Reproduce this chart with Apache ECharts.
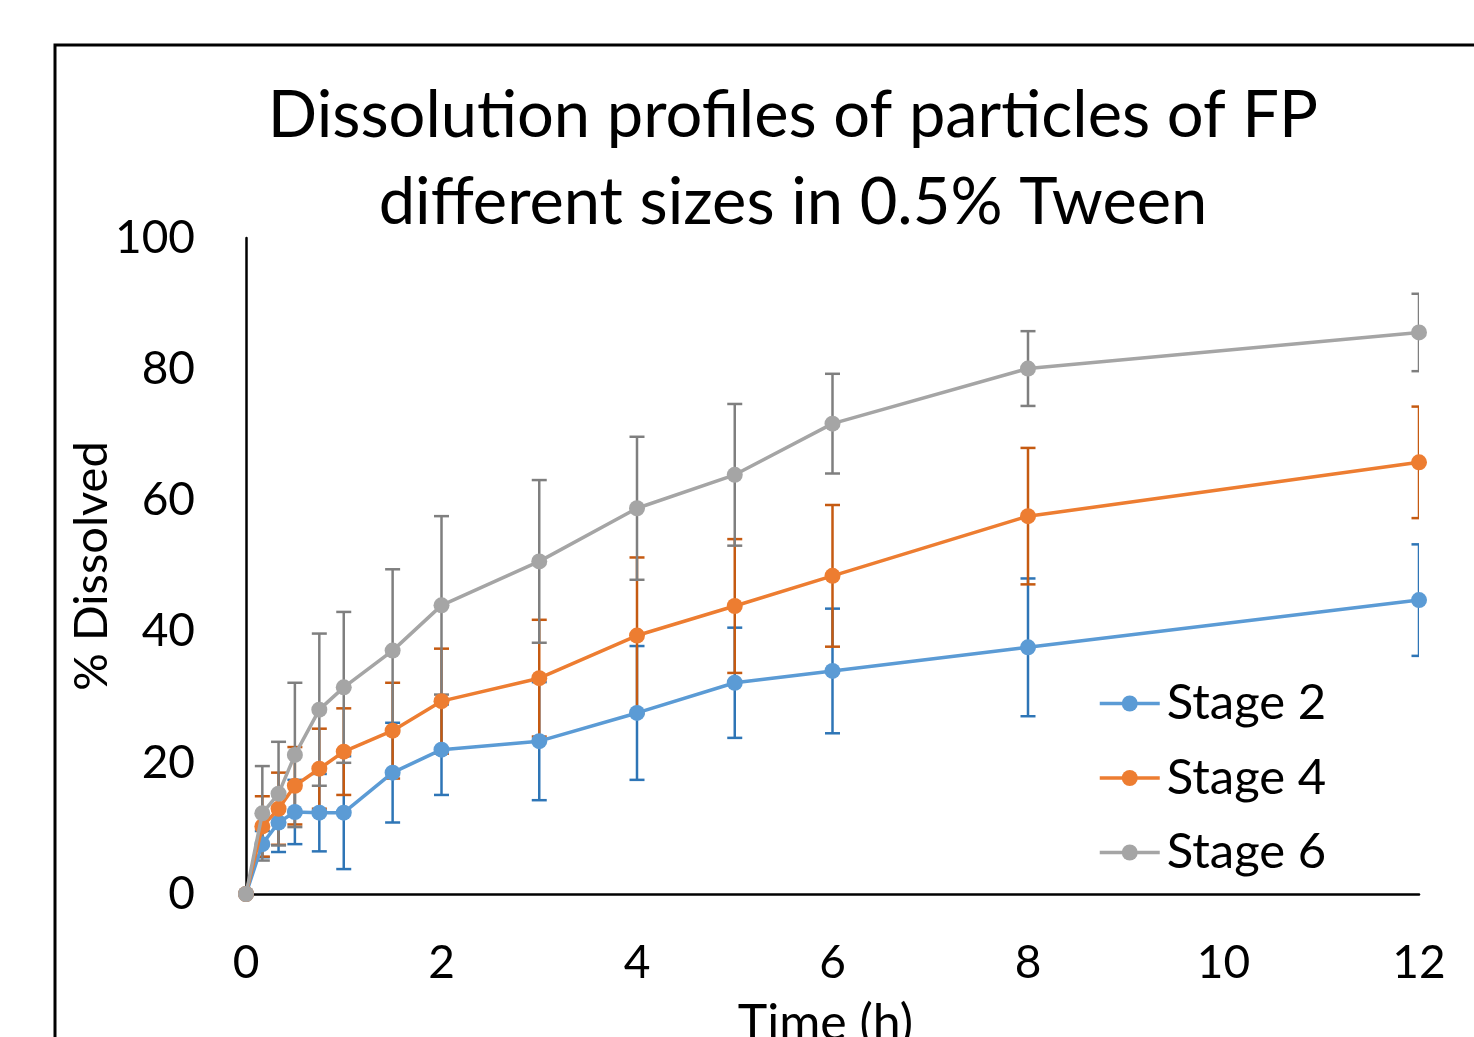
<!DOCTYPE html>
<html>
<head>
<meta charset="utf-8">
<script src="https://cdn.jsdelivr.net/npm/echarts@6/dist/echarts.min.js"></script>
<style>html,body{margin:0;padding:0;background:#fff;}#main{width:1474px;height:1037px;display:block;background:#fff}</style>
</head>
<body>
<div id="main"></div>
<script>
const times = [0, 0.167, 0.333, 0.5, 0.75, 1, 1.5, 2, 3, 4, 5, 6, 8, 12];
const xTicks = [0, 2, 4, 6, 8, 10, 12];
const yTicks = [0, 20, 40, 60, 80, 100];
const seriesNames = ['Stage 2', 'Stage 4', 'Stage 6'];
const stage2Mean = [0, 7.6, 10.9, 12.5, 12.4, 12.4, 18.5, 22.0, 23.3, 27.6, 32.2, 34.0, 37.6, 44.8];
const stage2SD   = [0, 2.0, 4.5, 4.9, 5.9, 8.6, 7.6, 6.9, 9.0, 10.2, 8.4, 9.5, 10.5, 8.5];
const stage4Mean = [0, 10.3, 13.0, 16.5, 19.1, 21.7, 24.9, 29.4, 32.9, 39.4, 43.9, 48.5, 57.6, 65.8];
const stage4SD   = [0, 4.6, 5.5, 5.9, 6.1, 6.6, 7.3, 8.0, 8.9, 11.9, 10.2, 10.8, 10.4, 8.5];
const stage6Mean = [0, 12.3, 15.3, 21.2, 28.1, 31.5, 37.1, 44.0, 50.7, 58.8, 63.9, 71.7, 80.1, 85.6];
const stage6SD   = [0, 7.2, 7.9, 11.0, 11.6, 11.5, 12.4, 13.6, 12.4, 10.9, 10.8, 7.6, 5.7, 5.9];

const lineColors = ['#5B9BD5', '#ED7D31', '#A5A5A5'];
const errColors = ['#2E75B6', '#C55A11', '#7F7F7F'];
const means = [stage2Mean, stage4Mean, stage6Mean];
const sds = [stage2SD, stage4SD, stage6SD];
const FONT = 'Lato';

const chart = echarts.init(document.getElementById('main'), null, {renderer: 'canvas', width: 1474, height: 1037});

const lineSeries = seriesNames.map((name, i) => ({
  name: name,
  type: 'line',
  data: times.map((t, k) => [t, means[i][k]]),
  symbol: 'circle',
  symbolSize: 16,
  lineStyle: {color: lineColors[i], width: 3.5},
  itemStyle: {color: lineColors[i]},
  z: 3 + i
}));

const errSeries = seriesNames.map((name, i) => ({
  name: name + ' err',
  type: 'custom',
  clip: true,
  z: 2,
  data: times.map((t, k) => [t, means[i][k], sds[i][k]]).filter(d => d[2] > 0),
  renderItem: function (params, api) {
    const x = api.value(0), m = api.value(1), s = api.value(2);
    const top = api.coord([x, m + s]);
    const bot = api.coord([x, m - s]);
    const hw = 7.5;
    const st = {stroke: errColors[i], lineWidth: 2.5};
    return {
      type: 'group',
      children: [
        {type: 'line', shape: {x1: top[0], y1: top[1], x2: bot[0], y2: bot[1]}, style: st},
        {type: 'line', shape: {x1: top[0] - hw, y1: top[1], x2: top[0] + hw, y2: top[1]}, style: st},
        {type: 'line', shape: {x1: bot[0] - hw, y1: bot[1], x2: bot[0] + hw, y2: bot[1]}, style: st}
      ]
    };
  }
}));

chart.setOption({
  animation: false,
  backgroundColor: '#fff',
  title: {
    text: 'Dissolution profiles of particles of FP\ndifferent sizes in 0.5% Tween',
    left: 793,
    textAlign: 'center',
    top: 73,
    padding: 0,
    textStyle: {fontFamily: FONT, fontSize: 65, fontWeight: 'normal', color: '#000', lineHeight: 87}
  },
  legend: {
    data: seriesNames,
    orient: 'vertical',
    left: 1098,
    top: 679,
    padding: 0,
    itemWidth: 60,
    itemHeight: 20,
    itemGap: 25.5,
    lineStyle: {width: 3.5},
    textStyle: {fontFamily: FONT, fontSize: 49, color: '#000', lineHeight: 46, padding: [0, 0, 0, 2]}
  },
  grid: {left: 246, width: 1173, top: 238, height: 656, containLabel: false, outerBoundsMode: 'none'},
  xAxis: {
    type: 'value', min: xTicks[0], max: xTicks[xTicks.length - 1], interval: 2,
    name: 'Time (h)', nameLocation: 'middle', nameGap: 105, nameMoveOverlap: false,
    nameTextStyle: {fontFamily: FONT, fontSize: 50, color: '#000', padding: [0, 14, 0, 0]},
    axisLine: {show: true, lineStyle: {color: '#000', width: 2.5}},
    axisTick: {show: false},
    splitLine: {show: false},
    axisLabel: {fontFamily: FONT, fontSize: 46, color: '#000', margin: 46}
  },
  yAxis: {
    type: 'value', min: yTicks[0], max: yTicks[yTicks.length - 1], interval: 20,
    name: '% Dissolved', nameLocation: 'middle', nameGap: 131, nameRotate: 90, nameMoveOverlap: false,
    nameTextStyle: {fontFamily: FONT, fontSize: 47, color: '#000'},
    axisLine: {show: true, lineStyle: {color: '#000', width: 2.5}},
    axisTick: {show: false},
    splitLine: {show: false},
    axisLabel: {fontFamily: FONT, fontSize: 46, color: '#000', margin: 51}
  },
  graphic: [{
    type: 'rect', z: 100, silent: true,
    shape: {x: 55, y: 45, width: 1500, height: 1100},
    style: {fill: 'none', stroke: '#000', lineWidth: 3}
  }],
  series: [...errSeries, ...lineSeries]
});
</script>
</body>
</html>
